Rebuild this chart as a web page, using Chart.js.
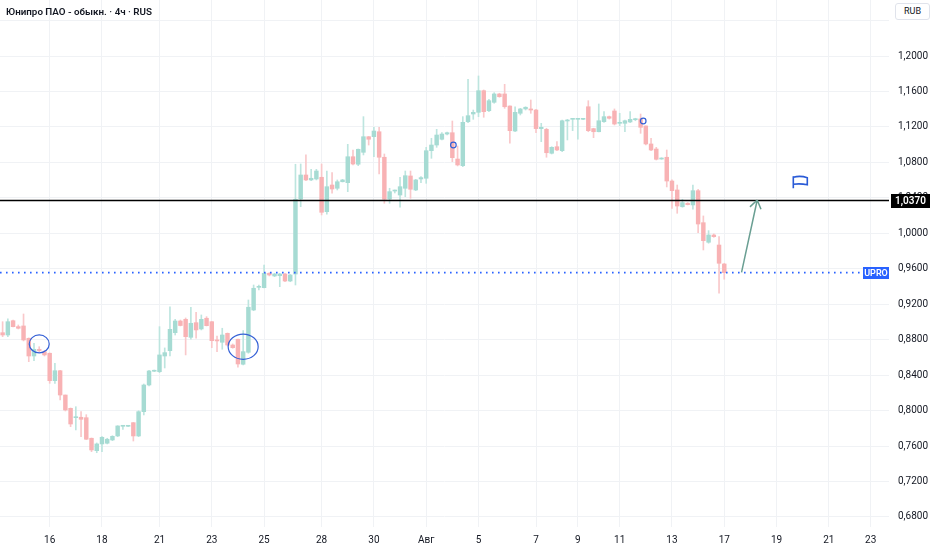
<!DOCTYPE html>
<html>
<head>
<meta charset="utf-8">
<title>Юнипро ПАО - 4ч</title>
<style>
  html, body { margin: 0; padding: 0; background: #fff; }
  #wrap { position: relative; width: 932px; height: 550px; overflow: hidden; }
  #title { position: absolute; left: 6px; top: 6px; font: 600 9.8px Roboto, sans-serif; color: #131722; white-space: nowrap; }
  #cur { position: absolute; left: 895px; top: 3px; width: 33px; height: 15px; border: 1px solid #e0e3eb; border-radius: 3px;
         font: 9px Roboto, sans-serif; color: #131722; text-align: center; line-height: 15px; background: #fff; }
</style>
<script src="https://cdn.jsdelivr.net/npm/chart.js@4.4.1/dist/chart.umd.min.js"></script>
</head>
<body>
<div id="wrap">
  <canvas id="chart" width="932" height="550"></canvas>
  <div id="title">Юнипро ПАО - обыкн. · 4ч · RUS</div>
  <div id="cur">RUB</div>
</div>
<script>
// 4h candles, July 15 - Aug 17
const opens = [
  0.8879, 0.8853, 0.9014, 0.8947, 0.8955, 0.8816, 0.8616, 0.8690, 0.8665, 0.8647,
  0.8338, 0.8450, 0.8176, 0.8026, 0.7920, 0.7925, 0.7920, 0.7688, 0.7548, 0.7624,
  0.7632, 0.7669, 0.7714, 0.7823, 0.7823, 0.7864, 0.7714, 0.7988, 0.8289, 0.8444,
  0.8439, 0.8616, 0.8676, 0.8879, 0.9011, 0.9030, 0.8827, 0.8992, 0.8921, 0.9042,
  0.9003, 0.8791, 0.8771, 0.8872, 0.8740, 0.8805, 0.8523, 0.8658, 0.9135, 0.9391,
  0.9387, 0.9549, 0.9519, 0.9522, 0.9541, 0.9462, 0.9541, 1.0387, 1.0658, 1.0602,
  1.0613, 1.0632, 1.0244, 1.0545, 1.0508, 1.0582, 1.0571, 1.0864, 1.0779, 1.0914,
  1.1090, 1.1090, 1.1146, 1.0858, 1.0387, 1.0477, 1.0432, 1.0508, 1.0647, 1.0489,
  1.0613, 1.0621, 1.0932, 1.0996, 1.1061, 1.1120, 1.1135, 1.0838, 1.0763, 1.1259,
  1.1346, 1.1365, 1.1609, 1.1383, 1.1478, 1.1572, 1.1572, 1.1436, 1.1154, 1.1354,
  1.1403, 1.1403, 1.1391, 1.1181, 1.1173, 1.0903, 1.0977, 1.0932, 1.1267, 1.1286,
  1.1286, 1.1286, 1.1428, 1.1181, 1.1146, 1.1259, 1.1316, 1.1380, 1.1241, 1.1241,
  1.1256, 1.1282, 1.1290, 1.1211, 1.1008, 1.0951, 1.0838, 1.0858, 1.0590, 1.0489,
  1.0300, 1.0339, 1.0320, 1.0481, 1.0120, 0.9899, 0.9981, 0.9868, 0.9654
];
const highs = [
  0.9003, 0.9034, 0.9022, 0.8966, 0.9090, 0.8820, 0.8760, 0.8721, 0.8676, 0.8650,
  0.8534, 0.8453, 0.8176, 0.8030, 0.8044, 0.7988, 0.7954, 0.7691, 0.7635, 0.7706,
  0.7688, 0.7717, 0.7830, 0.7835, 0.7830, 0.7866, 0.7999, 0.8300, 0.8455, 0.8458,
  0.8947, 0.8707, 0.9172, 0.9030, 0.9022, 0.9045, 0.9166, 0.9109, 0.9079, 0.9060,
  0.9005, 0.8842, 0.8929, 0.8876, 0.8752, 0.8808, 0.8902, 0.9248, 0.9417, 0.9417,
  0.9643, 0.9556, 0.9549, 0.9549, 0.9549, 0.9536, 1.0779, 1.0782, 1.0884, 1.0722,
  1.0722, 1.0782, 1.0703, 1.0684, 1.0602, 1.0609, 1.1004, 1.0940, 1.0951, 1.1316,
  1.1092, 1.1196, 1.1196, 1.0895, 1.0508, 1.0489, 1.0632, 1.0703, 1.0703, 1.0609,
  1.0639, 1.0970, 1.1072, 1.1173, 1.1135, 1.1143, 1.1267, 1.0985, 1.1316, 1.1737,
  1.1391, 1.1775, 1.1617, 1.1512, 1.1586, 1.1580, 1.1681, 1.1439, 1.1428, 1.1410,
  1.1428, 1.1504, 1.1399, 1.1241, 1.1185, 1.0977, 1.1034, 1.1278, 1.1286, 1.1295,
  1.1295, 1.1295, 1.1496, 1.1185, 1.1459, 1.1372, 1.1323, 1.1403, 1.1354, 1.1278,
  1.1372, 1.1298, 1.1346, 1.1213, 1.1072, 1.0970, 1.0853, 1.0940, 1.0602, 1.0545,
  1.0384, 1.0346, 1.0545, 1.0497, 1.0196, 1.0030, 0.9993, 0.9962, 0.9662
];
const lows = [
  0.8834, 0.8834, 0.8943, 0.8921, 0.8786, 0.8552, 0.8563, 0.8661, 0.8616, 0.8308,
  0.8308, 0.8120, 0.7996, 0.7819, 0.7782, 0.7706, 0.7674, 0.7537, 0.7525, 0.7537,
  0.7624, 0.7661, 0.7706, 0.7789, 0.7819, 0.7657, 0.7706, 0.7951, 0.8278, 0.8439,
  0.8428, 0.8481, 0.8616, 0.8853, 0.8955, 0.8628, 0.8805, 0.8816, 0.8910, 0.8955,
  0.8710, 0.8665, 0.8692, 0.8729, 0.8703, 0.8489, 0.8515, 0.8647, 0.9127, 0.9361,
  0.9383, 0.9519, 0.9511, 0.9398, 0.9454, 0.9454, 0.9417, 1.0300, 1.0594, 1.0594,
  1.0602, 1.0207, 1.0215, 1.0452, 1.0489, 1.0579, 1.0470, 1.0771, 1.0763, 1.0884,
  1.0996, 1.0864, 1.0669, 1.0339, 1.0339, 1.0455, 1.0294, 1.0413, 1.0395, 1.0481,
  1.0571, 1.0564, 1.0846, 1.0970, 1.1053, 1.1109, 1.0808, 1.0760, 1.0752, 1.1248,
  1.1286, 1.1316, 1.1309, 1.1372, 1.1467, 1.1535, 1.1410, 1.1016, 1.1146, 1.1335,
  1.1391, 1.1354, 1.1135, 1.1034, 1.0858, 1.0895, 1.0932, 1.0921, 1.1053, 1.1158,
  1.1061, 1.1282, 1.1146, 1.1079, 1.1144, 1.1252, 1.1289, 1.1222, 1.1214, 1.1146,
  1.1248, 1.1270, 1.1128, 1.0996, 1.0932, 1.0827, 1.0835, 1.0523, 1.0282, 1.0226,
  1.0294, 1.0320, 1.0271, 1.0007, 0.9812, 0.9888, 0.9955, 0.9324, 0.9482
];
const closes = [
  0.8853, 0.9003, 0.8947, 0.8929, 0.8797, 0.8616, 0.8692, 0.8678, 0.8628, 0.8338,
  0.8450, 0.8176, 0.8007, 0.7849, 0.7925, 0.7902, 0.7677, 0.7556, 0.7624, 0.7699,
  0.7677, 0.7710, 0.7827, 0.7827, 0.7827, 0.7714, 0.7988, 0.8289, 0.8447, 0.8447,
  0.8628, 0.8654, 0.8917, 0.9011, 0.8960, 0.8834, 0.8985, 0.8910, 0.9030, 0.8958,
  0.8789, 0.8786, 0.8853, 0.8740, 0.8710, 0.8526, 0.8665, 0.9166, 0.9380, 0.9395,
  0.9549, 0.9530, 0.9541, 0.9541, 0.9462, 0.9530, 1.0384, 1.0658, 1.0602, 1.0621,
  1.0703, 1.0237, 1.0526, 1.0500, 1.0582, 1.0602, 1.0864, 1.0782, 1.0948, 1.1090,
  1.1061, 1.1154, 1.0858, 1.0384, 1.0470, 1.0485, 1.0526, 1.0650, 1.0497, 1.0602,
  1.0628, 1.0932, 1.0996, 1.1109, 1.1120, 1.1135, 1.0853, 1.0771, 1.1252, 1.1327,
  1.1365, 1.1609, 1.1372, 1.1496, 1.1572, 1.1541, 1.1428, 1.1158, 1.1365, 1.1403,
  1.1422, 1.1391, 1.1181, 1.1196, 1.0909, 1.0970, 1.0940, 1.1270, 1.1278, 1.1293,
  1.1293, 1.1293, 1.1158, 1.1146, 1.1270, 1.1316, 1.1298, 1.1233, 1.1248, 1.1270,
  1.1286, 1.1290, 1.1196, 1.1008, 1.0940, 1.0835, 1.0846, 1.0590, 1.0481, 1.0308,
  1.0346, 1.0323, 1.0481, 1.0105, 0.9917, 0.9981, 0.9962, 0.9662, 0.9556
];

// time axis: number of 4h slots on screen, candle number where each labelled day starts
const SLOTS = 170;
const dayStart = [9, 19, 30, 40, 50, 61, 71, 81, 91, 102, 110, 118, 128, 138, 148, 158, 166];
const dayText = ['16', '18', '21', '23', '25', '28', '30', 'Авг', '5', '7', '9', '11', '13', '17', '19', '21', '23'];

// price axis
const priceGrid = [0.68, 0.72, 0.76, 0.80, 0.84, 0.88, 0.92, 0.96, 1.00, 1.04, 1.08, 1.12, 1.16, 1.20, 1.24];
const priceLabels = [0.68, 0.72, 0.76, 0.80, 0.84, 0.88, 0.92, 0.96, 1.00, 1.04, 1.08, 1.12, 1.16, 1.20];
const priceMin = 0.6687;
const priceMax = 1.2632;

// drawings on the chart
const levelPrice = 1.0370;
const ticker = 'UPRO';
const ellipses = [{ i: 7.0, p: 0.8752, rx: 10, ry: 9 }, { i: 46.0, p: 0.8721, rx: 15, ry: 12.6 }];
const dots = [{ i: 86.2, p: 1.0996 }, { i: 122.5, p: 1.1267 }];
const arrow = { from: { i: 141.3, p: 0.9560 }, to: { i: 144.3, p: 1.0376 } };
const flag = { i: 151.2, p: 1.0508 };

const UP = '#a6dbd3', DOWN = '#f8b2b4';
const UP_WICK = '#bde5df', DOWN_WICK = '#f9c8ca';
const FONT = 'Roboto, sans-serif';

const labels = Array.from({ length: SLOTS }, (_, i) => {
    const k = dayStart.indexOf(i);
    return k >= 0 ? dayText[k] : '';
});
const rising = opens.map((o, i) => closes[i] >= o);

const fmt = v => v.toFixed(4).replace('.', ',');

const drawings = {
    id: 'drawings',
    afterDatasetsDraw(chart) {
        const { ctx, chartArea: a, scales: { x, y } } = chart;
        const px = pt => [x.getPixelForValue(pt.i), y.getPixelForValue(pt.p)];
        ctx.save();

        // horizontal level
        const ly = y.getPixelForValue(levelPrice);
        ctx.strokeStyle = '#000';
        ctx.lineWidth = 1.6;
        ctx.beginPath();
        ctx.moveTo(a.left, ly);
        ctx.lineTo(a.right, ly);
        ctx.stroke();

        // last price dotted line
        const cy = y.getPixelForValue(closes[closes.length - 1]);
        ctx.strokeStyle = '#2962ff';
        ctx.lineWidth = 1.6;
        ctx.setLineDash([1.6, 4.4]);
        ctx.beginPath();
        ctx.moveTo(a.left, cy);
        ctx.lineTo(a.right - 26, cy);
        ctx.stroke();
        ctx.setLineDash([]);

        // ellipses
        ctx.strokeStyle = '#3460d6';
        ctx.lineWidth = 1.2;
        ellipses.forEach(e => {
            const [ex, ey] = px(e);
            ctx.beginPath();
            ctx.ellipse(ex, ey, e.rx, e.ry, 0, 0, Math.PI * 2);
            ctx.stroke();
        });
        dots.forEach(d => {
            const [dx, dy] = px(d);
            ctx.beginPath();
            ctx.arc(dx, dy, 2.8, 0, Math.PI * 2);
            ctx.stroke();
        });

        // arrow
        const [ax0, ay0] = px(arrow.from);
        const [ax1, ay1] = px(arrow.to);
        const ang = Math.atan2(ay1 - ay0, ax1 - ax0);
        ctx.strokeStyle = '#6a9f93';
        ctx.lineWidth = 1.5;
        ctx.beginPath();
        ctx.moveTo(ax0, ay0);
        ctx.lineTo(ax1, ay1);
        [-0.6, 0.6].forEach(d => {
            ctx.moveTo(ax1, ay1);
            ctx.lineTo(ax1 - 10 * Math.cos(ang + d), ay1 - 10 * Math.sin(ang + d));
        });
        ctx.stroke();

        // flag
        const [fx, fy] = px(flag);
        ctx.strokeStyle = '#2a5bd7';
        ctx.lineWidth = 1.6;
        ctx.beginPath();
        ctx.moveTo(fx, fy);
        ctx.lineTo(fx, fy - 12);
        ctx.moveTo(fx, fy - 11);
        ctx.quadraticCurveTo(fx + 7, fy - 13, fx + 14, fy - 10.5);
        ctx.lineTo(fx + 14, fy - 3.5);
        ctx.quadraticCurveTo(fx + 7, fy - 5, fx, fy - 4);
        ctx.stroke();

        ctx.restore();
    },
    afterDraw(chart) {
        const { ctx, chartArea: a, scales: { y } } = chart;
        ctx.save();
        ctx.textAlign = 'center';
        ctx.textBaseline = 'middle';

        const ly = Math.round(y.getPixelForValue(levelPrice));
        ctx.fillStyle = '#000';
        ctx.fillRect(a.right + 2, ly - 7, 39, 14);
        ctx.fillStyle = '#fff';
        ctx.font = '600 10px ' + FONT;
        ctx.fillText(fmt(levelPrice), a.right + 21.5, ly + 0.5);

        const cy = Math.round(y.getPixelForValue(closes[closes.length - 1]));
        ctx.fillStyle = '#2962ff';
        ctx.fillRect(a.right - 26, cy - 6, 26, 12);
        ctx.fillStyle = '#fff';
        ctx.font = '600 9px ' + FONT;
        ctx.fillText(ticker, a.right - 13, cy + 0.5);
        ctx.restore();
    }
};

new Chart(document.getElementById('chart'), {
    type: 'bar',
    data: {
        labels,
        datasets: [
            {
                data: opens.map((o, i) => [o, closes[i]]),
                backgroundColor: rising.map(r => r ? UP : DOWN),
                barThickness: 3.8,
                minBarLength: 1,
                grouped: false
            },
            {
                data: lows.map((l, i) => [l, highs[i]]),
                backgroundColor: rising.map(r => r ? UP_WICK : DOWN_WICK),
                barThickness: 1,
                grouped: false
            }
        ]
    },
    options: {
        responsive: false,
        animation: false,
        events: [],
        layout: { padding: 0, autoPadding: false },
        plugins: { legend: { display: false }, tooltip: { enabled: false } },
        scales: {
            x: {
                type: 'category',
                offset: true,
                border: { display: false },
                grid: {
                    offset: false,
                    drawTicks: false,
                    color: c => labels[c.index] ? '#f0f2f5' : 'rgba(0,0,0,0)'
                },
                ticks: {
                    autoSkip: false,
                    maxRotation: 0,
                    padding: 7,
                    color: '#131722',
                    font: { family: FONT, size: 10 }
                },
                afterFit: s => { s.height = 23; s.paddingLeft = 0; s.paddingRight = 0; }
            },
            y: {
                position: 'right',
                min: priceMin,
                max: priceMax,
                border: { display: false },
                grid: { drawTicks: false, color: '#f0f2f5' },
                afterBuildTicks: s => { s.ticks = priceGrid.map(v => ({ value: v })); },
                ticks: {
                    padding: 9,
                    color: '#131722',
                    font: { family: FONT, size: 10 },
                    callback: v => priceLabels.some(p => Math.abs(p - v) < 1e-6) ? fmt(v) : ''
                },
                afterFit: s => { s.width = 43; s.paddingTop = 0; s.paddingBottom = 0; }
            }
        }
    },
    plugins: [drawings]
});
</script>
</body>
</html>
